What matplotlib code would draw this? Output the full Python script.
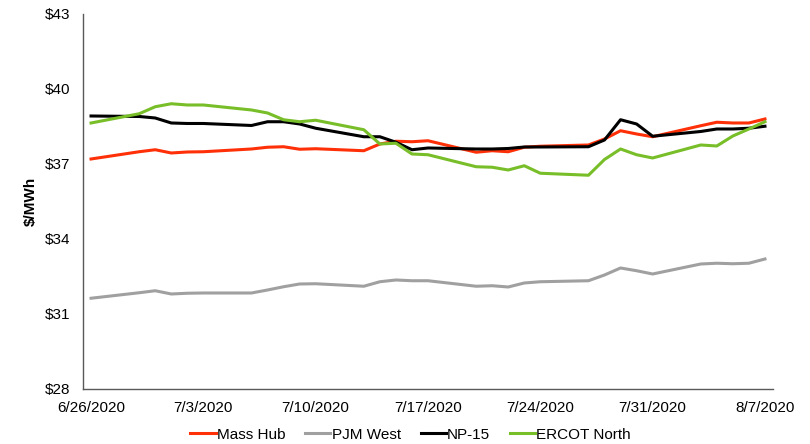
import matplotlib
matplotlib.use("Agg")
import matplotlib.pyplot as plt
import matplotlib.dates as mdates
import numpy as np
import pandas as pd

plt.rcParams["font.family"] = ["Liberation Sans", "DejaVu Sans"]

# Daily on-peak forward prices, $/MWh (business days)
dates = pd.to_datetime([
    "2020-06-26", "2020-06-29", "2020-06-30", "2020-07-01", "2020-07-02", "2020-07-03",
    "2020-07-06", "2020-07-07", "2020-07-08", "2020-07-09", "2020-07-10",
    "2020-07-13", "2020-07-14", "2020-07-15", "2020-07-16", "2020-07-17",
    "2020-07-20", "2020-07-21", "2020-07-22", "2020-07-23", "2020-07-24",
    "2020-07-27", "2020-07-28", "2020-07-29", "2020-07-30", "2020-07-31",
    "2020-08-03", "2020-08-04", "2020-08-05", "2020-08-06", "2020-08-07",
])

mass_hub = [37.20, 37.49, 37.57, 37.44, 37.48, 37.49,
            37.60, 37.67, 37.69, 37.59, 37.61,
            37.53, 37.80, 37.91, 37.89, 37.93,
            37.47, 37.53, 37.49, 37.67, 37.71,
            37.76, 38.00, 38.33, 38.20, 38.09,
            38.53, 38.67, 38.64, 38.64, 38.80]

pjm_west = [31.63, 31.85, 31.93, 31.80, 31.83, 31.84,
            31.84, 31.96, 32.09, 32.20, 32.21,
            32.11, 32.29, 32.36, 32.33, 32.33,
            32.11, 32.13, 32.08, 32.24, 32.29,
            32.33, 32.56, 32.84, 32.73, 32.60,
            33.00, 33.03, 33.01, 33.03, 33.20]

np15 = [38.92, 38.90, 38.84, 38.64, 38.62, 38.62,
        38.54, 38.69, 38.69, 38.60, 38.43,
        38.09, 38.09, 37.87, 37.57, 37.64,
        37.60, 37.60, 37.62, 37.68, 37.68,
        37.69, 37.96, 38.77, 38.60, 38.11,
        38.30, 38.40, 38.40, 38.43, 38.51]

ercot_north = [38.64, 39.01, 39.29, 39.41, 39.36, 39.36,
               39.16, 39.04, 38.77, 38.69, 38.75,
               38.37, 37.80, 37.83, 37.40, 37.37,
               36.89, 36.87, 36.76, 36.93, 36.63,
               36.55, 37.18, 37.60, 37.37, 37.24,
               37.76, 37.72, 38.12, 38.40, 38.69]

series_names = ["Mass Hub", "PJM West", "NP-15", "ERCOT North"]
series_values = [mass_hub, pjm_west, np15, ercot_north]
series_colors = ["#FF3008", "#A0A0A0", "#000000", "#78BE28"]

y_ticks = [28, 31, 34, 37, 40, 43]
x_tick_dates = pd.date_range("2020-06-26", "2020-08-07", freq="7D")

fig = plt.figure(figsize=(8.10, 4.44), dpi=100)
ax = fig.add_axes([0.1025, 0.1239, 0.8518, 0.8446])

for name, vals, col in zip(series_names, series_values, series_colors):
    ax.plot(dates, vals, color=col, lw=2.2, label=name, solid_joinstyle="round")

ax.set_ylim(28, 43)
ax.set_yticks(y_ticks)
ax.set_yticklabels([f"${v}" for v in y_ticks])

ax.set_xlim(dates[0] - pd.Timedelta(hours=12), dates[-1] + pd.Timedelta(hours=12))
ax.set_xticks(x_tick_dates)
ax.xaxis.set_major_formatter(
    matplotlib.ticker.FuncFormatter(
        lambda v, p: (lambda d: f"{d.month}/{d.day}/{d.year}")(mdates.num2date(v))))

for side in ["top", "right"]:
    ax.spines[side].set_visible(False)
for side in ["left", "bottom"]:
    ax.spines[side].set_color("#595959")
    ax.spines[side].set_linewidth(1.0)

ax.tick_params(axis="both", length=0, labelsize=11, colors="black")
ax.tick_params(axis="y", pad=9)
ax.tick_params(axis="x", pad=9)

ax.set_ylabel("$/MWh", fontsize=11, fontweight="bold", labelpad=5)

fig.legend(loc="lower center", bbox_to_anchor=(0.507, -0.026), ncol=4, frameon=False,
           fontsize=11, handlelength=1.65, handletextpad=0.08, columnspacing=1.3)

fig.savefig("out.png", dpi=100)
